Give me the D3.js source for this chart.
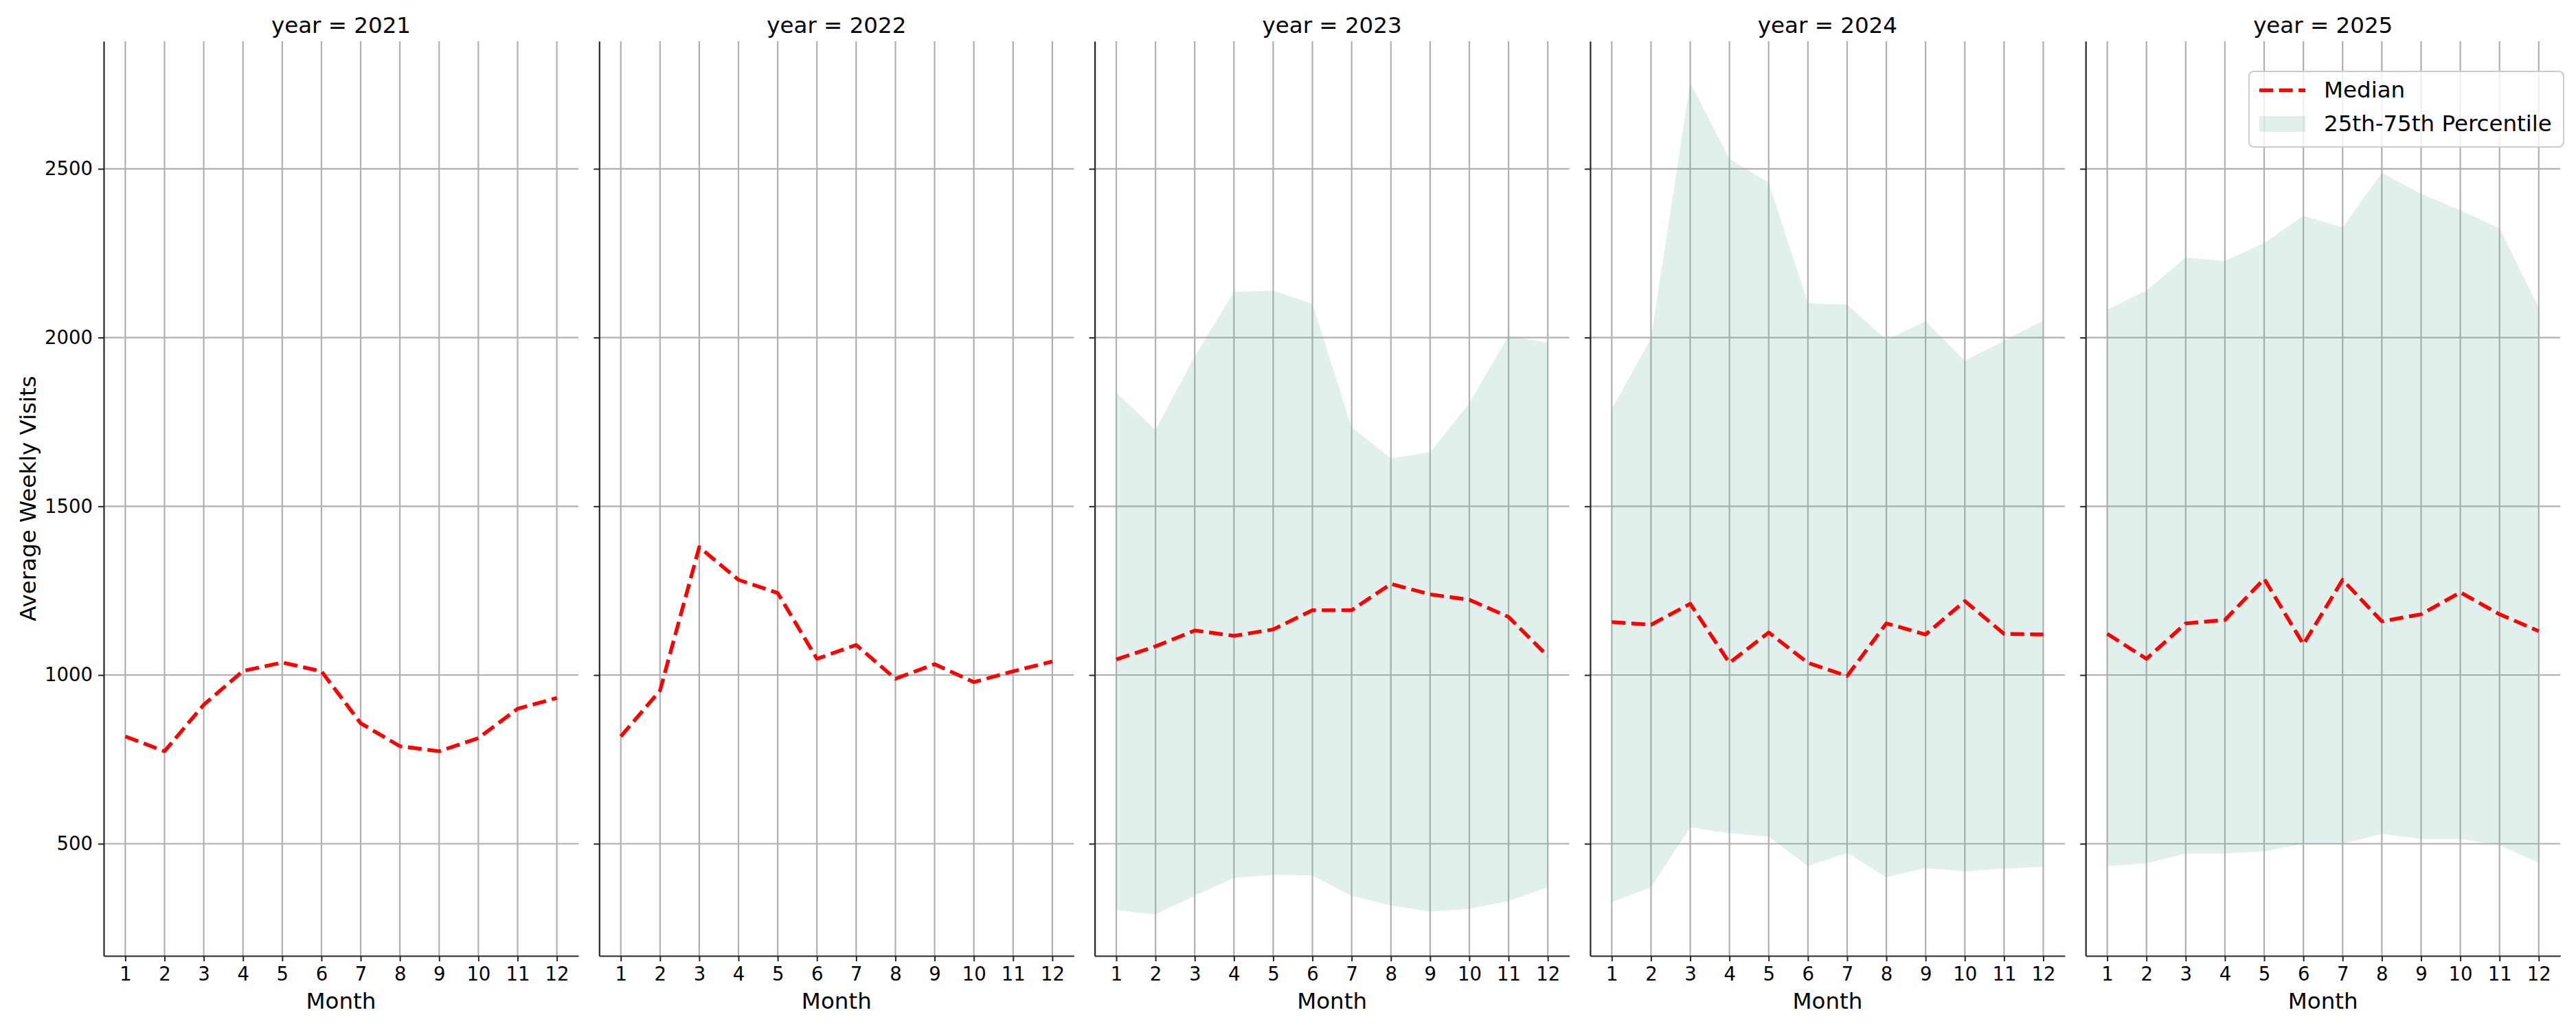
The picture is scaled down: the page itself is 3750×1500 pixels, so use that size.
<!DOCTYPE html>
<html>
<head>
<meta charset="utf-8">
<script src="https://cdn.jsdelivr.net/npm/d3@7"></script>
<style>
    body { margin: 0; background: #fff; }
    svg { display: block; font-family: "DejaVu Sans", sans-serif; }
</style>
</head>
<body>
<script>
// values
let years = [2021, 2022, 2023, 2024, 2025];
let months = [1, 2, 3, 4, 5, 6, 7, 8, 9, 10, 11, 12];
let yTicks = [500, 1000, 1500, 2000, 2500];

let median2021 = [818, 774, 912, 1012, 1037, 1011, 857, 789, 774, 813, 900, 932];
let median2022 = [818, 954, 1379, 1282, 1243, 1048, 1089, 989, 1032, 979, 1011, 1040];
let median2023 = [1046, 1085, 1132, 1116, 1135, 1192, 1192, 1270, 1239, 1223, 1172, 1056];
let median2024 = [1157, 1149, 1211, 1036, 1126, 1036, 997, 1153, 1120, 1219, 1122, 1120];
let median2025 = [1122, 1048, 1153, 1163, 1285, 1091, 1282, 1159, 1180, 1245, 1180, 1130];

let q25_2023 = [303, 291, 346, 399, 408, 406, 346, 317, 299, 307, 330, 371];
let q75_2023 = [1837, 1726, 1944, 2135, 2139, 2100, 1734, 1642, 1660, 1806, 2005, 1985];
let q25_2024 = [327, 371, 549, 531, 521, 434, 473, 401, 428, 418, 426, 432];
let q75_2024 = [1788, 1997, 2755, 2529, 2459, 2102, 2098, 1993, 2048, 1931, 1991, 2050];
let q25_2025 = [434, 442, 471, 471, 477, 500, 500, 529, 514, 514, 496, 443];
let q75_2025 = [2083, 2139, 2237, 2227, 2280, 2361, 2326, 2488, 2426, 2377, 2324, 2088];

let medians = [median2021, median2022, median2023, median2024, median2025];
let q25s = [null, null, q25_2023, q25_2024, q25_2025];
let q75s = [null, null, q75_2023, q75_2024, q75_2025];

let width = 3750, height = 1500;
let panelLeft = 151, panelStep = 721.3, panelWidth = 691;
let plotTop = 60, plotBottom = 1392;
let fontTick = 27.5, fontLabel = 32.5;
let gridColor = '#b0b0b0', axisColor = '#262626';

let svg = d3.select('body').append('svg')
    .attr('width', width)
    .attr('height', height);

// shared y scale, matplotlib style 5% padding
let allValues = medians.flat().concat(q25s.filter(d => d).flat(), q75s.filter(d => d).flat());
let yMin = d3.min(allValues), yMax = d3.max(allValues);
let yPad = (yMax - yMin) * 0.05;
let yScale = d3.scaleLinear().domain([yMin - yPad, yMax + yPad]).range([plotBottom, plotTop]);

years.forEach((year, i) => {
    let x0 = panelLeft + i * panelStep;
    let xScale = d3.scaleLinear().domain([0.45, 12.55]).range([x0, x0 + panelWidth]);
    let g = svg.append('g');

    // Grid
    g.selectAll('.vgrid').data(months).enter().append('line')
        .attr('x1', d => xScale(d)).attr('x2', d => xScale(d))
        .attr('y1', plotTop).attr('y2', plotBottom)
        .attr('stroke', gridColor).attr('stroke-width', 2.2);
    g.selectAll('.hgrid').data(yTicks).enter().append('line')
        .attr('x1', x0).attr('x2', x0 + panelWidth)
        .attr('y1', d => yScale(d)).attr('y2', d => yScale(d))
        .attr('stroke', gridColor).attr('stroke-width', 2.2);

    // 25th-75th band
    if (q25s[i]) {
        let band = months.map((m, j) => ({ m: m, lo: q25s[i][j], hi: q75s[i][j] }));
        let area = d3.area()
            .x(d => xScale(d.m))
            .y0(d => yScale(d.lo))
            .y1(d => yScale(d.hi));
        g.append('path')
            .datum(band)
            .attr('d', area)
            .attr('fill', 'rgb(105, 179, 162)')
            .attr('fill-opacity', 0.2);
    }

    // Median line
    let line = d3.line()
        .x((d, j) => xScale(months[j]))
        .y(d => yScale(d));
    g.append('path')
        .datum(medians[i])
        .attr('d', line)
        .attr('fill', 'none')
        .attr('stroke', 'red')
        .attr('stroke-width', 5.4)
        .attr('stroke-dasharray', '20,8.6')
        .attr('stroke-linejoin', 'round');

    // Axes
    let xAxis = d3.axisBottom(xScale).tickValues(months).tickSize(8).tickSizeOuter(0).tickPadding(8);
    let xAxisGroup = g.append('g')
        .attr('transform', `translate(0, ${plotBottom})`)
        .call(xAxis);
    let yAxis = d3.axisLeft(yScale).tickValues(yTicks).tickSize(8).tickSizeOuter(0).tickPadding(8)
        .tickFormat(i > 0 ? '' : d3.format('d'));
    let yAxisGroup = g.append('g')
        .attr('transform', `translate(${x0}, 0)`)
        .call(yAxis);

    [xAxisGroup, yAxisGroup].forEach(ax => {
        ax.select('.domain').attr('stroke', axisColor).attr('stroke-width', 2.2);
        ax.selectAll('.tick line').attr('stroke', axisColor).attr('stroke-width', 2);
        ax.selectAll('.tick text')
            .attr('fill', '#000')
            .style('font-size', fontTick + 'px')
            .style('font-family', '"DejaVu Sans", sans-serif');
    });

    // Title and x label
    g.append('text')
        .attr('x', x0 + panelWidth / 2).attr('y', 48)
        .attr('text-anchor', 'middle')
        .style('font-size', fontLabel + 'px')
        .text(`year = ${year}`);
    g.append('text')
        .attr('x', x0 + panelWidth / 2).attr('y', 1469)
        .attr('text-anchor', 'middle')
        .style('font-size', fontLabel + 'px')
        .text('Month');
});

// Y label
svg.append('text')
    .attr('transform', `translate(52, ${(plotTop + plotBottom) / 2}) rotate(-90)`)
    .attr('text-anchor', 'middle')
    .style('font-size', fontLabel + 'px')
    .text('Average Weekly Visits');

// Legend in last panel
let legend = svg.append('g');
legend.append('rect')
    .attr('x', 3274).attr('y', 104)
    .attr('width', 458).attr('height', 110)
    .attr('rx', 7)
    .attr('fill', 'white').attr('fill-opacity', 0.8)
    .attr('stroke', '#cccccc').attr('stroke-width', 2);
legend.append('line')
    .attr('x1', 3289).attr('x2', 3356)
    .attr('y1', 131.5).attr('y2', 131.5)
    .attr('stroke', 'red').attr('stroke-width', 5.4)
    .attr('stroke-dasharray', '20,8.6');
legend.append('rect')
    .attr('x', 3289).attr('y', 169)
    .attr('width', 67).attr('height', 23)
    .attr('fill', 'rgb(105, 179, 162)').attr('fill-opacity', 0.2);
legend.append('text')
    .attr('x', 3383).attr('y', 142)
    .style('font-size', fontLabel + 'px')
    .text('Median');
legend.append('text')
    .attr('x', 3383).attr('y', 191)
    .style('font-size', fontLabel + 'px')
    .text('25th-75th Percentile');
</script>
</body>
</html>
